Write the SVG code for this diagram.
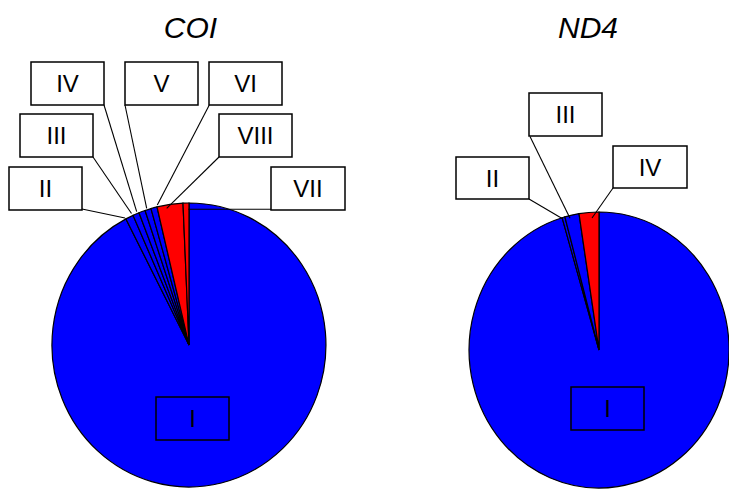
<svg xmlns="http://www.w3.org/2000/svg" width="729" height="490" viewBox="0 0 729 490">
<style>
.title{font-family:"Liberation Sans",Arial,sans-serif;font-style:italic;font-size:30px;fill:#000;text-anchor:middle}
.lbl{font-family:"Liberation Sans",Arial,sans-serif;font-size:24px;fill:#000;text-anchor:middle}
.box{fill:#fff;stroke:#000;stroke-width:1.5}
.boxc{fill:none;stroke:#000;stroke-width:1.5}
.blue{fill:#0000ff;stroke:#000;stroke-width:1.2}
.red{fill:#ff0000;stroke:#000;stroke-width:1.2}
.lead{stroke:#000;stroke-width:1.1;fill:none}
</style>
<rect width="729" height="490" fill="#fff"/>
<text class="title" x="190.5" y="38">COI</text>
<text class="title" x="588" y="38">ND4</text>

<g id="coi-pie">
<path id="coi-I" class="blue" d="M189,345 L189,203 A137,142 0 1,1 125.95,218.9 Z"/>
<path id="coi-II" class="blue" d="M189,345 L125.95,218.9 A137,142 0 0,1 133.1,215.4 Z"/>
<path id="coi-III" class="blue" d="M189,345 L133.1,215.4 A137,142 0 0,1 139,212.8 Z"/>
<path id="coi-IV" class="blue" d="M189,345 L139,212.8 A137,142 0 0,1 145.1,210.5 Z"/>
<path id="coi-V" class="blue" d="M189,345 L145.1,210.5 A137,142 0 0,1 151,208.6 Z"/>
<path id="coi-VI" class="blue" d="M189,345 L151,208.6 A137,142 0 0,1 157,206.9 Z"/>
<path id="coi-VIII" class="red" d="M189,345 L157,206.9 A137,142 0 0,1 183,203.1 Z"/>
<path id="coi-VII" class="red" d="M189,345 L183,203.1 A137,142 0 0,1 189,203 Z"/>
</g>

<g id="nd4-pie">
<path id="nd4-I" class="blue" d="M599,350 L599,212 A130,138 0 1,1 562.1,217.7 Z"/>
<path id="nd4-II" class="blue" d="M599,350 L562.1,217.7 A130,138 0 0,1 564.9,216.8 Z"/>
<path id="nd4-III" class="blue" d="M599,350 L564.9,216.8 A130,138 0 0,1 579,213.6 Z"/>
<path id="nd4-IV" class="red" d="M599,350 L579,213.6 A130,138 0 0,1 599,212 Z"/>
</g>

<g id="connectors">
<line class="lead" x1="82" y1="209" x2="125" y2="218"/>
<line class="lead" x1="93" y1="157" x2="131.5" y2="213.5"/>
<line class="lead" x1="104" y1="105" x2="136.7" y2="211.7"/>
<line class="lead" x1="125" y1="105" x2="146.7" y2="208.3"/>
<line class="lead" x1="209.3" y1="105" x2="157.3" y2="205"/>
<line class="lead" x1="219" y1="157" x2="166.7" y2="208.3"/>
<line class="lead" x1="188.3" y1="209.3" x2="271" y2="209.3"/>
<line class="lead" x1="529" y1="199" x2="563" y2="219"/>
<line class="lead" x1="530" y1="136.5" x2="570" y2="218.3"/>
<line class="lead" x1="613" y1="188" x2="592" y2="218"/>
</g>

<g id="coi-label-I"><rect class="boxc" x="156" y="397" width="73" height="43"/><text class="lbl" x="192.5" y="427">I</text></g>
<g id="coi-label-II"><rect class="box" x="9" y="167" width="73" height="43"/><text class="lbl" x="45.5" y="197">II</text></g>
<g id="coi-label-III"><rect class="box" x="20" y="114" width="73" height="43"/><text class="lbl" x="56.5" y="144">III</text></g>
<g id="coi-label-IV"><rect class="box" x="31" y="62" width="73" height="43"/><text class="lbl" x="67.5" y="92">IV</text></g>
<g id="coi-label-V"><rect class="box" x="125" y="62" width="73" height="43"/><text class="lbl" x="161.5" y="92">V</text></g>
<g id="coi-label-VI"><rect class="box" x="209" y="62" width="73" height="43"/><text class="lbl" x="245.5" y="92">VI</text></g>
<g id="coi-label-VIII"><rect class="box" x="219" y="114" width="73" height="43"/><text class="lbl" x="255.5" y="144">VIII</text></g>
<g id="coi-label-VII"><rect class="box" x="271" y="167" width="74" height="43"/><text class="lbl" x="308" y="197">VII</text></g>

<g id="nd4-label-I"><rect class="boxc" x="571" y="387" width="73" height="43"/><text class="lbl" x="607.5" y="417">I</text></g>
<g id="nd4-label-II"><rect class="box" x="456" y="157" width="73" height="42"/><text class="lbl" x="492.5" y="186.5">II</text></g>
<g id="nd4-label-III"><rect class="box" x="529" y="93" width="73" height="43"/><text class="lbl" x="565.5" y="123">III</text></g>
<g id="nd4-label-IV"><rect class="box" x="613" y="146" width="74" height="42"/><text class="lbl" x="650" y="175.5">IV</text></g>
</svg>
